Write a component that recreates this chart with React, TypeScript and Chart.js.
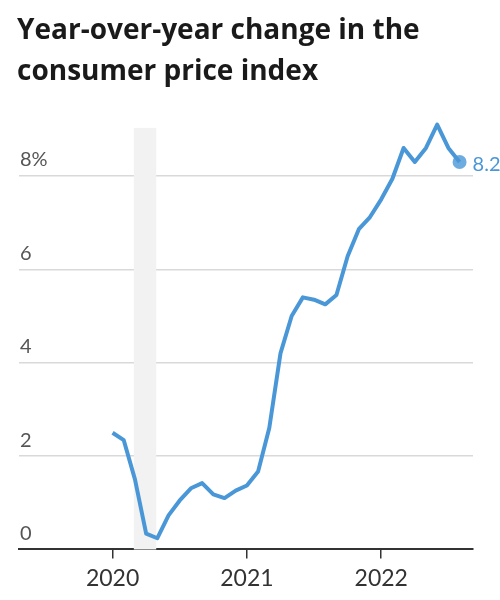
import { useEffect, useRef } from "react"
import { Chart, registerables } from "chart.js"

Chart.register(...registerables)

// Monthly CPI, % change from a year earlier (Jan 2020 onward)
const months = [
  "2020-01", "2020-02", "2020-03", "2020-04", "2020-05", "2020-06",
  "2020-07", "2020-08", "2020-09", "2020-10", "2020-11", "2020-12",
  "2021-01", "2021-02", "2021-03", "2021-04", "2021-05", "2021-06",
  "2021-07", "2021-08", "2021-09", "2021-10", "2021-11", "2021-12",
  "2022-01", "2022-02", "2022-03", "2022-04", "2022-05", "2022-06",
  "2022-07", "2022-08",
]
const cpiYoY = [
  2.5, 2.34, 1.5, 0.34, 0.24, 0.73, 1.05, 1.31, 1.42, 1.18, 1.1, 1.26,
  1.37, 1.67, 2.6, 4.2, 5.0, 5.4, 5.35, 5.25, 5.45, 6.28, 6.86, 7.12,
  7.5, 7.94, 8.6, 8.3, 8.6, 9.1, 8.6, 8.3,
]
const latestLabel = "8.2"

const xTickValues = [0, 12, 24]
const xTickLabels = ["2020", "2021", "2022"]
const yTickValues = [0, 2, 4, 6, 8]
const yTickLabels = ["0", "2", "4", "6", "8%"]

// shaded recession, in month-index units
const recessionStart = 1.9
const recessionEnd = 3.9

const titleLines = ["Year-over-year change in the", "consumer price index"]

const LINE = "#4a97d8"

const recessionBand = {
  id: "recessionBand",
  beforeDatasetsDraw(chart: any) {
    const { ctx, chartArea, scales } = chart
    const x0 = scales.x.getPixelForValue(recessionStart)
    const x1 = scales.x.getPixelForValue(recessionEnd)
    ctx.save()
    ctx.fillStyle = "#f1f2f1"
    ctx.fillRect(x0, chartArea.top, x1 - x0, chartArea.bottom - chartArea.top)
    ctx.restore()
  },
}

const endLabel = {
  id: "endLabel",
  afterDatasetsDraw(chart: any) {
    const meta = chart.getDatasetMeta(1)
    const pt = meta.data[0]
    if (!pt) return
    const { ctx } = chart
    ctx.save()
    ctx.font = "20px Lato"
    ctx.fillStyle = LINE
    ctx.textAlign = "left"
    ctx.textBaseline = "middle"
    ctx.fillText(latestLabel, pt.x + 13, pt.y + 3)
    ctx.restore()
  },
}

export default function App() {
  const chartRef = useRef<HTMLCanvasElement>(null)
  const chartInstance = useRef<Chart | null>(null)

  useEffect(() => {
    if (!chartRef.current) return
    if (chartInstance.current) chartInstance.current.destroy()

    const points = cpiYoY.map((v, i) => ({ x: i, y: v }))
    const last = points[points.length - 1]

    chartInstance.current = new Chart(chartRef.current, {
      type: "line",
      data: {
        labels: months,
        datasets: [
          {
            data: points,
            borderColor: LINE,
            borderWidth: 4,
            pointRadius: 0,
            tension: 0,
            clip: false,
            borderJoinStyle: "round",
          },
          {
            data: [last],
            showLine: false,
            pointRadius: 7,
            pointBackgroundColor: "rgba(74, 151, 216, 0.8)",
            pointBorderWidth: 0,
            clip: false,
          },
        ],
      },
      plugins: [recessionBand, endLabel],
      options: {
        responsive: false,
        animation: false,
        devicePixelRatio: 1,
        layout: {
          padding: { left: 17, right: 27, top: 10, bottom: 2 },
        },
        plugins: {
          legend: { display: false },
          tooltip: { enabled: false },
          title: {
            display: true,
            text: titleLines,
            align: "start",
            color: "#1a1a1a",
            font: { family: "Open Sans", size: 28, weight: "bold", lineHeight: 1.48 },
            padding: { top: 0, bottom: 35 },
          },
        },
        scales: {
          x: {
            type: "linear",
            min: -8.36,
            max: 32.2,
            afterBuildTicks: (scale: any) => {
              scale.ticks = xTickValues.map((v) => ({ value: v }))
            },
            ticks: {
              callback: (value: any) => xTickLabels[xTickValues.indexOf(value)],
              font: { family: "Lato", size: 23, lineHeight: 0.85 },
              color: "#333",
              padding: 10,
              maxRotation: 0,
            },
            grid: {
              drawOnChartArea: false,
              drawTicks: true,
              tickLength: 9,
              color: "#333",
              lineWidth: 1.5,
            },
            border: { display: true, color: "#333", width: 2 },
          },
          y: {
            min: 0,
            max: 9.03,
            afterBuildTicks: (scale: any) => {
              scale.ticks = yTickValues.map((v) => ({ value: v }))
            },
            ticks: {
              mirror: true,
              padding: 1,
              labelOffset: -16,
              callback: (value: any) => yTickLabels[yTickValues.indexOf(value)],
              font: { family: "Lato", size: 20 },
              color: "#555",
            },
            grid: {
              drawTicks: false,
              color: (c: any) => (c.tick && c.tick.value === 0 ? "#333" : "#d9d9d9"),
              lineWidth: (c: any) => (c.tick && c.tick.value === 0 ? 2 : 1.5),
            },
            border: { display: false },
          },
        },
      },
    })

    return () => {
      if (chartInstance.current) {
        chartInstance.current.destroy()
        chartInstance.current = null
      }
    }
  }, [])

  return (
    <div style={{ position: "fixed", top: 0, left: 0, width: 500, height: 600, background: "#fff" }}>
      <canvas ref={chartRef} width={500} height={600} />
    </div>
  )
}
